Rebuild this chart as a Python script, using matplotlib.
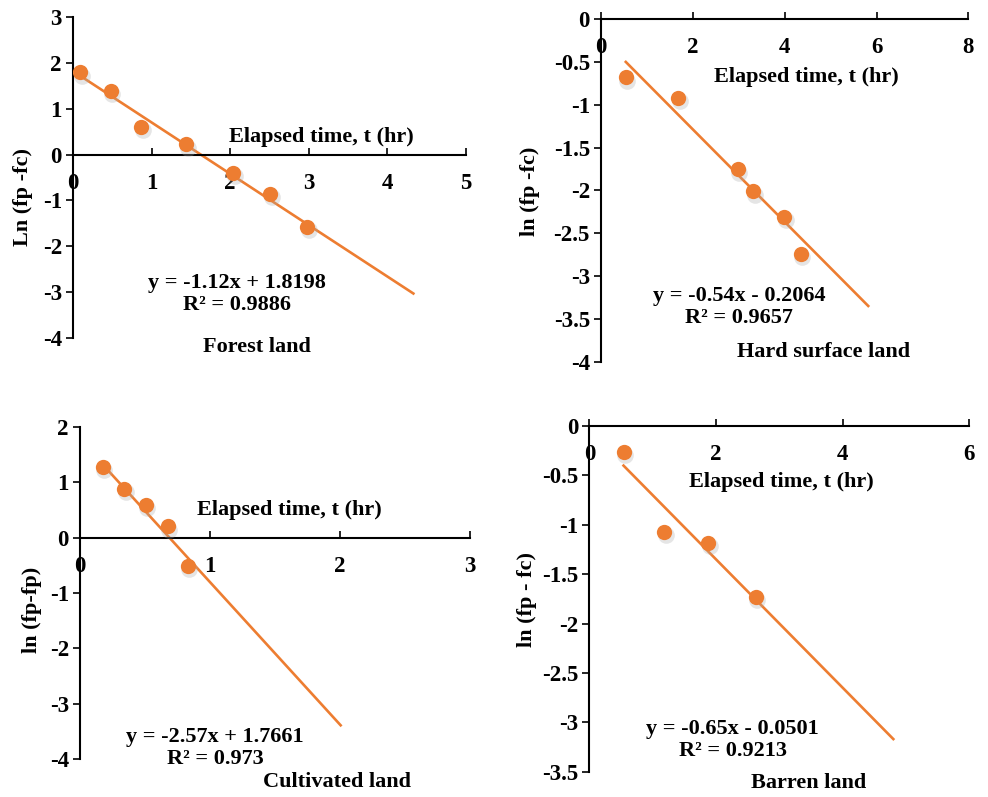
import matplotlib
matplotlib.use('Agg')
import matplotlib.pyplot as plt
from matplotlib.ticker import FuncFormatter

plt.rcParams['font.family'] = ['Liberation Serif', 'DejaVu Serif']
plt.rcParams['font.weight'] = 'bold'
plt.rcParams['axes.unicode_minus'] = False

# Forest land
forest_t = [0.09, 0.48, 0.87, 1.44, 2.04, 2.51, 2.98]
forest_y = [1.79, 1.38, 0.60, 0.22, -0.40, -0.85, -1.58]
forest_fit = (-1.12, 1.8198, 0.9886)

# Hard surface land
hard_t = [0.54, 1.68, 2.98, 3.32, 3.99, 4.35]
hard_y = [-0.68, -0.92, -1.75, -2.01, -2.31, -2.74]
hard_fit = (-0.54, -0.2064, 0.9657)

# Cultivated land
cult_t = [0.175, 0.34, 0.505, 0.675, 0.83]
cult_y = [1.28, 0.88, 0.59, 0.20, -0.51]
cult_fit = (-2.57, 1.7661, 0.973)

# Barren land
barren_t = [0.54, 1.18, 1.88, 2.63]
barren_y = [-0.26, -1.07, -1.18, -1.73]
barren_fit = (-0.65, -0.0501, 0.9213)

orange = '#ED7D31'
fs = 16
tfs = 16.5


def fmt(v, pos):
    return '%g' % v


def panel(rect, t, y, fit, t_end, xlim, ylim, xstep, ystep, ylabel, ylab_pos,
          xlab_pos, eq_pos, title, title_pos):
    ax = fig.add_axes(rect)
    slope, icpt, r2 = fit
    # trendline (with forward forecast like Excel)
    tx = [t[0], t_end]
    ax.plot(tx, [slope * v + icpt for v in tx], color=orange, lw=1.9, zorder=2)
    # soft shadow + points
    ax.plot([v + 0.004 * (xlim[1] - xlim[0]) for v in t],
            [v - 0.010 * (ylim[1] - ylim[0]) for v in y],
            'o', ms=12, color='#aaaaaa', alpha=0.3, mec='none', zorder=3)
    ax.plot(t, y, 'o', ms=11, color=orange, mec='none', zorder=4)

    ax.set_xlim(xlim)
    ax.set_ylim(ylim)
    xt = []
    v = xlim[0]
    while v <= xlim[1] + 1e-9:
        xt.append(v)
        v += xstep
    yt = []
    v = ylim[0]
    while v <= ylim[1] + 1e-9:
        yt.append(round(v, 2))
        v += ystep
    ax.set_xticks(xt)
    ax.set_yticks(yt)
    ax.xaxis.set_major_formatter(FuncFormatter(fmt))
    ax.yaxis.set_major_formatter(FuncFormatter(fmt))

    ax.spines['top'].set_visible(False)
    ax.spines['right'].set_visible(False)
    ax.spines['bottom'].set_position(('data', 0))
    ax.spines['left'].set_linewidth(1.5)
    ax.spines['bottom'].set_linewidth(1.5)
    ax.tick_params(axis='x', direction='in', length=5, width=1.2, pad=13, labelsize=tfs)
    ax.tick_params(axis='y', direction='out', length=5, width=1.2, pad=3, labelsize=tfs)
    ax.patch.set_alpha(0)

    ax.text(ylab_pos[0], ylab_pos[1], ylabel, transform=ax.transAxes, rotation=90,
            ha='center', va='center', fontsize=fs, fontweight='bold')
    ax.text(xlab_pos[0], xlab_pos[1], 'Elapsed time, t (hr)', transform=ax.transAxes,
            ha='center', va='center', fontsize=fs, fontweight='bold')
    sign = '+' if icpt >= 0 else '-'
    eq = 'y = %gx %s %g\nR² = %g' % (slope, sign, abs(icpt), r2)
    ax.text(eq_pos[0], eq_pos[1], eq, transform=ax.transAxes, ha='center',
            va='center', fontsize=fs, fontweight='bold', linespacing=1.15)
    ax.text(title_pos[0], title_pos[1], title, transform=ax.transAxes,
            ha='center', va='center', fontsize=fs, fontweight='bold')
    return ax


fig = plt.figure(figsize=(9.88, 7.97), dpi=100)

panel([0.0739, 0.5759, 0.3978, 0.4028], forest_t, forest_y, forest_fit, 4.33,
      (0, 5), (-4, 3), 1, 1, 'Ln (fp -fc)', (-0.127, 0.44),
      (0.633, 0.627), (0.4165, 0.137), 'Forest land', (0.469, -0.027))

panel([0.6083, 0.5462, 0.3718, 0.4296], hard_t, hard_y, hard_fit, 5.82,
      (0, 8), (-4, 0), 2, 0.5, 'ln (fp -fc)', (-0.193, 0.4965),
      (0.56, 0.831), (0.3765, 0.160), 'Hard surface land', (0.607, 0.029))

panel([0.081, 0.0473, 0.3947, 0.4173], cult_t, cult_y, cult_fit, 2.005,
      (0, 3), (-4, 2), 1, 1, 'ln (fp-fp)', (-0.124, 0.449),
      (0.538, 0.75), (0.346, 0.033), 'Cultivated land', (0.66, -0.067))

panel([0.5965, 0.0318, 0.3846, 0.4337], barren_t, barren_y, barren_fit, 4.80,
      (0, 6), (-3.5, 0), 2, 0.5, 'ln (fp - fc)', (-0.163, 0.497),
      (0.506, 0.839), (0.377, 0.092), 'Barren land', (0.576, -0.034))

fig.savefig('out.png', dpi=100, facecolor='white')
